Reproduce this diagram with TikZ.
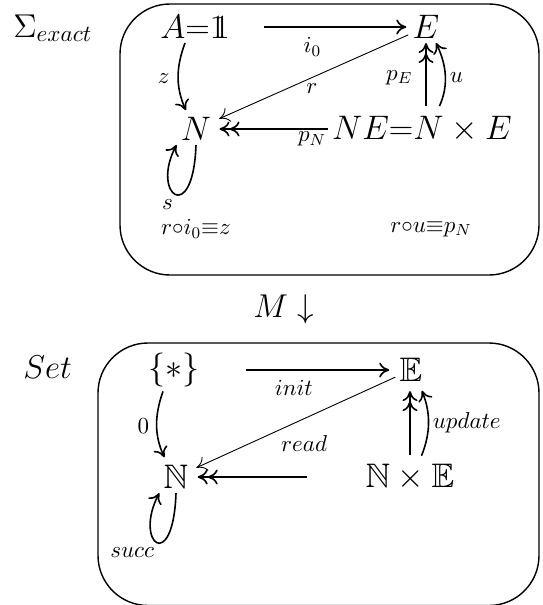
\RequirePackage{fix-cm}
\documentclass[tikz,border=0pt]{standalone}
\usepackage{amsmath}
\usepackage{amssymb}
\usetikzlibrary{arrows.meta, positioning}

\begin{document}
\begin{tikzpicture}[x=0.5pt, y=0.5pt,
    >={To[length=5pt, width=7.5pt]},
    obj/.style={inner sep=2pt, font=\fontsize{17}{20}\selectfont},
    title/.style={inner sep=0pt, anchor=base west, font=\fontsize{16.5}{20}\selectfont},
    lbl/.style={inner sep=2pt, font=\fontsize{11.5}{14}\selectfont},
    eqn/.style={inner sep=0pt, font=\fontsize{11.5}{14}\selectfont},
    arrow/.style={->, line width=0.8pt},
    darrow/.style={->>, line width=0.8pt},
    tarrow/.style={->, line width=0.45pt},
    frame/.style={line width=0.7pt, rounded corners=25pt},
    selfloop/.style={out=-92, in=-118, out distance=41pt, in distance=28pt},
]
\useasboundingbox (0,0) rectangle (542,-605);
% the theory
\draw[frame] (120,-4) rectangle (539,-275);
\node[title] (sig) at (13,-37) {$\Sigma_{exact}$};
\node[obj] (A) at (195,-27) {$A{=}\mathrm{1\!\!1}$};
\node[obj] (E) at (426,-27) {$E$};
\node[obj] (N) at (196,-129) {$N$};
\node[obj] (NE) at (422,-129) {$NE{=}N\times E$};
\draw[arrow, shorten <=15pt, shorten >=1pt] (A) -- node[lbl, below=3pt, pos=0.45] {$i_0$} (E);
\draw[tarrow, shorten >=2pt] (E) -- node[lbl, below=1pt] {$r$} (N);
\draw[darrow, shorten >=2pt] (NE) -- node[lbl, below=-1pt, pos=0.14] {$p_N$} (N);
\draw[darrow, shorten <=3pt] (E |- NE.north) -- node[lbl, left=4.5pt] {$p_E$} (E.south);
\draw[arrow, shorten <=3pt] ([xshift=7.5pt]NE.north) to[bend right=25] node[lbl, right] {$u$} ([xshift=5pt]E.south);
\draw[arrow, shorten >=1.5pt] ([xshift=-5pt]A.south) to[bend right=22] node[lbl, left=2pt] {$z$} ([xshift=-4.5pt]N.north);
\draw[arrow] (N.south) to[selfloop] node[lbl, pos=0.45, below left] {$s$} (N.south west);
\node[eqn] (eq1) at (196,-229) {$r{\circ}i_0{\equiv}z$};
\node[eqn] (eq2) at (431,-229) {$r{\circ}u{\equiv}p_N$};
% the model
\node[title] (M) at (253,-317) {$M\downarrow$};
\draw[frame] (98,-343) rectangle (539,-605.5);
\node[title] (set) at (23,-378) {$Set$};
\node[obj] (S) at (174,-370) {$\{*\}$};
\node[obj] (BE) at (411,-370) {$\mathbb{E}$};
\node[obj] (BN) at (176,-477) {$\mathbb{N}$};
\node[obj] (BNE) at (410,-477) {$\mathbb{N}\times\mathbb{E}$};
\draw[arrow, shorten <=21pt, shorten >=3pt] (S) -- node[lbl, below=3pt, pos=0.47] {$init$} (BE);
\draw[tarrow, shorten >=2pt] (BE) -- node[lbl, below=6pt, pos=0.45] {$read$} (BN);
\draw[darrow, shorten <=27pt, shorten >=2.5pt] (BNE) -- (BN);
\draw[darrow, shorten <=2pt, shorten >=2.5pt] (BNE.north) -- (BNE.north |- BE.south);
\draw[arrow, shorten <=2pt, shorten >=2.5pt] ([xshift=5pt]BNE.north) to[bend right=22] node[lbl, right] {$update$} ([xshift=4.5pt]BE.south);
\draw[arrow, shorten >=2pt] ([xshift=-5.5pt]S.south) to[bend right=22] node[lbl, left=1.5pt] {$0$} ([xshift=-5pt]BN.north);
\draw[arrow] (BN.south) to[selfloop] node[lbl, pos=0.45, below left] {$succ$} (BN.south west);
\end{tikzpicture}
\end{document}
